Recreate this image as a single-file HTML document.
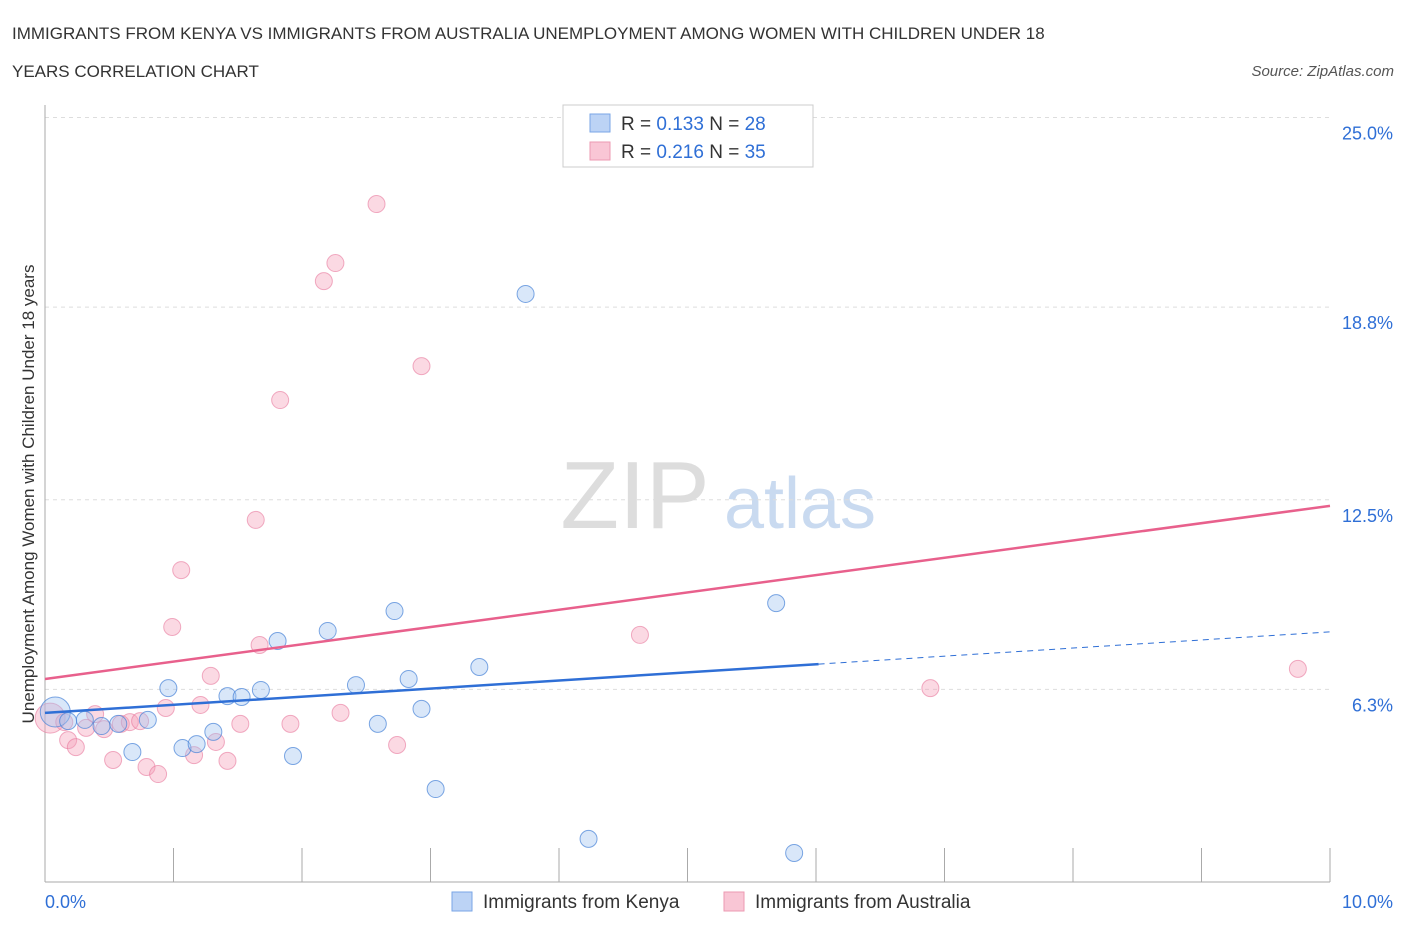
<!DOCTYPE html>
<html><head><meta charset="utf-8"><style>
body{margin:0;background:#fff;font-family:"Liberation Sans",sans-serif;}
svg text{font-family:"Liberation Sans",sans-serif;}
</style></head><body>
<svg width="1406" height="930" id="c">
<text x="12" y="39" font-size="17" fill="#333">IMMIGRANTS FROM KENYA VS IMMIGRANTS FROM AUSTRALIA UNEMPLOYMENT AMONG WOMEN WITH CHILDREN UNDER 18</text>
<text x="12" y="77" font-size="17" fill="#333">YEARS CORRELATION CHART</text>
<text x="1394" y="76" font-size="15" fill="#555" font-style="italic" text-anchor="end">Source: ZipAtlas.com</text>
<text x="635" y="528" font-size="96" fill="#ddd" font-family="Liberation Serif" text-anchor="middle">ZIP</text>
<text x="800" y="528" font-size="72" fill="#c9daf0" text-anchor="middle">atlas</text>
<text transform="translate(34,494) rotate(-90)" font-size="17" fill="#333" text-anchor="middle">Unemployment Among Women with Children Under 18 years</text>
<g id="grid"></g><g id="marks"></g>
<g>
<rect x="563" y="105" width="250" height="62" fill="#fff" stroke="#ccc"/>
<rect x="590" y="114" width="20" height="18" fill="#bcd3f5" stroke="#7aa6e6"/>
<rect x="590" y="142" width="20" height="18" fill="#f9c6d5" stroke="#ec9ab2"/>
<text x="621" y="130" font-size="19" fill="#333">R = <tspan fill="#2f6fd6">0.133</tspan>   N = <tspan fill="#2f6fd6">28</tspan></text>
<text x="621" y="158" font-size="19" fill="#333">R = <tspan fill="#2f6fd6">0.216</tspan>   N = <tspan fill="#2f6fd6">35</tspan></text>
</g>
<g>
<rect x="452" y="892" width="20" height="19" fill="#bcd3f5" stroke="#7aa6e6"/>
<text x="483" y="908" font-size="19" fill="#333">Immigrants from Kenya</text>
<rect x="724" y="892" width="20" height="19" fill="#f9c6d5" stroke="#ec9ab2"/>
<text x="755" y="908" font-size="19" fill="#333">Immigrants from Australia</text>
</g>
</svg>
<script>
const yTicks=[25.0,18.8,12.5,6.3];
const yTickLabels=["25.0%","18.8%","12.5%","6.3%"];
const xTicks=[0,1,2,3,4,5,6,7,8,9,10];
const kenyaX=[0.08,0.18,0.31,0.44,0.57,0.80,0.68,0.96,1.07,1.18,1.31,1.42,1.53,1.68,1.81,1.93,2.20,2.42,2.59,2.72,2.83,2.93,3.04,3.38,3.74,4.23,5.69,5.83];
const kenyaY=[5.56,5.26,5.30,5.10,5.17,5.30,4.25,6.34,4.38,4.51,4.91,6.08,6.05,6.28,7.88,4.12,8.21,6.44,5.17,8.86,6.64,5.66,3.04,7.03,19.23,1.41,9.12,0.95];
const ausX=[0.04,0.15,0.18,0.24,0.32,0.39,0.46,0.53,0.59,0.66,0.74,0.79,0.88,0.94,0.99,1.06,1.16,1.21,1.29,1.33,1.42,1.52,1.64,1.67,1.83,1.91,2.17,2.26,2.30,2.58,2.74,2.93,4.63,6.89,9.75];
const ausY=[5.36,5.23,4.64,4.41,5.04,5.49,5.00,3.99,5.17,5.23,5.26,3.76,3.53,5.69,8.34,10.20,4.15,5.79,6.74,4.58,3.96,5.17,11.84,7.75,15.76,5.17,19.65,20.24,5.53,22.17,4.48,16.87,8.08,6.34,6.97];
const kenyaTrend=[5.53,8.18];
const ausTrend=[6.64,12.30];
const kenyaSolidEnd=6.02;
const X=v=>45+v*128.5, Y=v=>882-v*30.58;
const NS="http://www.w3.org/2000/svg";
const grid=document.getElementById('grid'), marks=document.getElementById('marks');
function mk(tag,attrs,parent){const e=document.createElementNS(NS,tag);for(const k in attrs)e.setAttribute(k,attrs[k]);parent.appendChild(e);return e;}
yTicks.forEach((t,i)=>{
 const l=mk('line',{x1:45,x2:1330,y1:Y(t),y2:Y(t),stroke:'#ddd','stroke-dasharray':'4,4'},grid);
 
 
 const tx=mk('text',{x:1393,y:Y(t)+22,'font-size':18,fill:'#2f6fd6','text-anchor':'end'},grid);
 tx.textContent=yTickLabels[i];
 
 
});
const ax=mk('line',{x1:45,x2:45,y1:105,y2:882,stroke:'#aaa'},grid);


const bx=mk('line',{x1:45,x2:1330,y1:882,y2:882,stroke:'#aaa'},grid);


xTicks.forEach(t=>{
 const l=mk('line',{x1:X(t),x2:X(t),y1:848,y2:882,stroke:'#aaa'},grid);
 
 
});
const xl0=mk('text',{x:45,y:908,'font-size':18,fill:'#2f6fd6'},grid);xl0.textContent='0.0%';


const xl1=mk('text',{x:1393,y:908,'font-size':18,fill:'#2f6fd6','text-anchor':'end'},grid);xl1.textContent='10.0%';


ausX.forEach((x,i)=>{
 const c=mk('circle',{cx:X(x),cy:Y(ausY[i]),r:i==0?15:8.5,fill:'rgba(244,160,186,0.4)',stroke:'rgba(232,120,156,0.6)'},marks);
 
 
});
kenyaX.forEach((x,i)=>{
 const c=mk('circle',{cx:X(x),cy:Y(kenyaY[i]),r:i==0?15:8.5,fill:'rgba(160,195,240,0.4)',stroke:'rgba(70,130,215,0.7)'},marks);
 
 
});
const kAt=v=>kenyaTrend[0]+(kenyaTrend[1]-kenyaTrend[0])*v/10;
const k1=mk('line',{x1:X(0),y1:Y(kAt(0)),x2:X(kenyaSolidEnd),y2:Y(kAt(kenyaSolidEnd)),stroke:'#2f6fd6','stroke-width':2.5},marks);


const k2=mk('line',{x1:X(kenyaSolidEnd),y1:Y(kAt(kenyaSolidEnd)),x2:X(10),y2:Y(kAt(10)),stroke:'#2f6fd6','stroke-width':1,'stroke-dasharray':'6,5'},marks);


const a1=mk('line',{x1:X(0),y1:Y(ausTrend[0]),x2:X(10),y2:Y(ausTrend[1]),stroke:'#e8608c','stroke-width':2.5},marks);


</script>
</body></html>
